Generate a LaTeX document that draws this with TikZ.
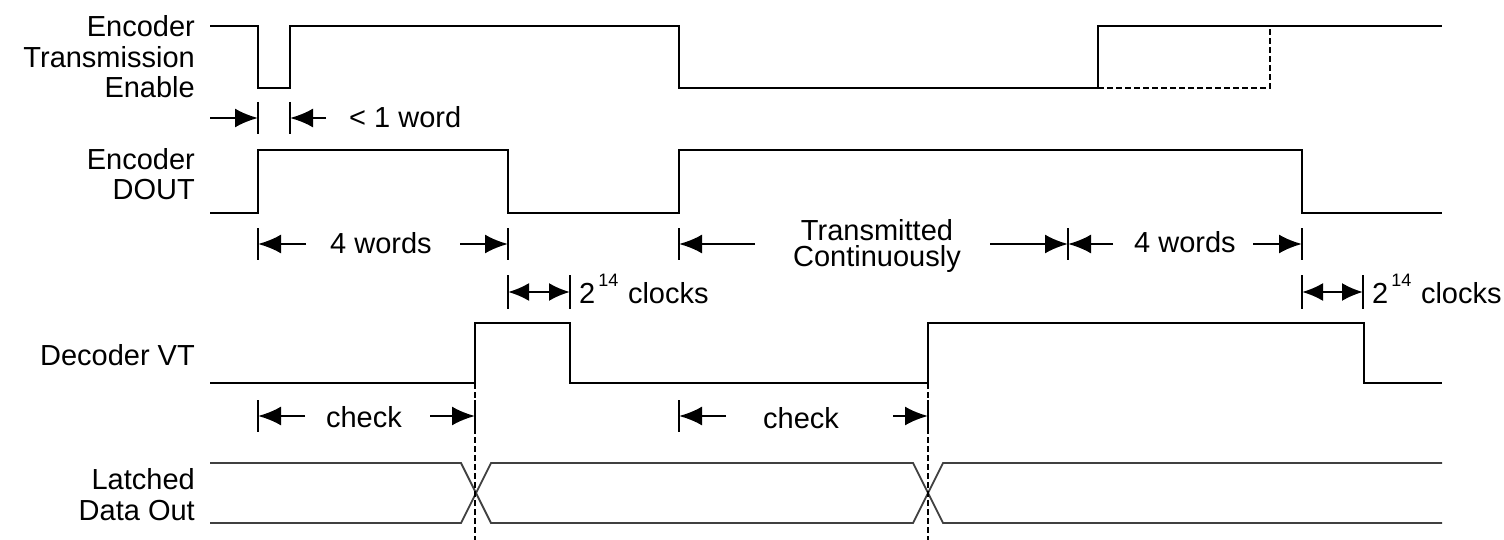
\documentclass[tikz,border=0pt]{standalone}
\usepackage{fontspec}
\setmainfont{Liberation Sans}
\usetikzlibrary{arrows.meta}
\tikzset{
    wave/.style = {line width=2.8pt},
    bus/.style = {line width=1.8pt, black!75},
    guide/.style = {line width=2.2pt, dash pattern=on 6pt off 3pt},
    tick/.style = {line width=2.4pt},
    dim/.style = {line width=2.4pt, -{Latex[length=23pt,width=19pt]}},
    dimboth/.style = {line width=2.4pt, {Latex[length=21pt,width=18pt]}-{Latex[length=21pt,width=18pt]}},
    lbl/.style = {anchor=base east, align=right, inner sep=0pt, font=\fontsize{29}{30.5}\selectfont},
    note/.style = {inner sep=0pt, font=\fontsize{29}{26.5}\selectfont}
}
\newcommand{\twopow}{2\raisebox{17pt}{\fontsize{18}{18}\selectfont\,14}\,\,clocks}

\begin{document}
\begin{tikzpicture}[x=1pt, y=-1pt]
    \useasboundingbox (0,0) rectangle (1504,540);

    % signal names (base = last line)
    \node[lbl] (lte) at (195,98) {Encoder\\Transmission\\Enable};
    \node[lbl] (ldout) at (195,200) {Encoder\\DOUT};
    \node[lbl] (lvt) at (195,365) {Decoder VT};
    \node[lbl] (lout) at (195,520) {Latched\\Data Out};

    % waveforms
    \draw[wave] (210,26) -| (258,88) -| (290,26) -| (679,88) -| (1098,26) -- (1442,26);
    \draw[guide] (1098,88) -| (1270,26);
    \draw[wave] (210,213) -| (258,150) -| (508,213) -| (679,150) -| (1302,213) -- (1442,213);
    \draw[wave] (210,383) -| (475,323) -| (570,383) -| (928,323) -| (1364,383) -- (1442,383);
    \draw[bus] (210,463) -- (461,463) -- (491,523) -- (913,523) -- (943,463) -- (1442,463);
    \draw[bus] (210,523) -- (461,523) -- (491,463) -- (913,463) -- (943,523) -- (1442,523);
    \draw[guide] (475,383) -- (475,540);
    \draw[guide] (928,383) -- (928,540);

    % < 1 word
    \coordinate (a0) at (210,118);
    \coordinate (a1) at (258,118);
    \coordinate (a2) at (290,118);
    \coordinate (a3) at (326,118);
    \draw[tick] ([yshift=16pt]a1) -- ([yshift=-16pt]a1);
    \draw[tick] ([yshift=16pt]a2) -- ([yshift=-16pt]a2);
    \draw[dim] (a0) -- (a1);
    \draw[dim] (a3) -- (a2);
    \node[note, anchor=base west] (tword) at (349,128) {< 1 word};

    % 4 words, transmitted continuously, 4 words
    \coordinate (b0) at (258,244);
    \coordinate (b1) at (306,244);
    \coordinate (b2) at (460,244);
    \coordinate (b3) at (508,244);
    \coordinate (b4) at (679,244);
    \coordinate (b5) at (755,244);
    \coordinate (b6) at (990,244);
    \coordinate (b7) at (1068,244);
    \coordinate (b8) at (1113,244);
    \coordinate (b9) at (1253,244);
    \coordinate (b10) at (1302,244);
    \foreach \c in {b0,b3,b4,b7,b10}
        \draw[tick] ([yshift=16pt]\c) -- ([yshift=-16pt]\c);
    \draw[dim] (b1) -- (b0);
    \draw[dim] (b2) -- (b3);
    \draw[dim] (b5) -- (b4);
    \draw[dim] (b6) -- (b7);
    \draw[dim] (b8) -- (b7);
    \draw[dim] (b9) -- (b10);
    \node[note, anchor=base] (tfour) at (381,253) {4 words};
    \node[note, align=center] (tcont) at (877,246) {Transmitted\\Continuously};
    \node[note, anchor=base] (tfourb) at (1185,252) {4 words};

    % 2^14 clocks
    \coordinate (c0) at (508,292);
    \coordinate (c1) at (570,292);
    \coordinate (c2) at (1302,292);
    \coordinate (c3) at (1363,292);
    \foreach \c in {c0,c1,c2,c3}
        \draw[tick] ([yshift=17pt]\c) -- ([yshift=-17pt]\c);
    \draw[dimboth] (c0) -- (c1);
    \draw[dimboth] (c2) -- (c3);
    \node[note, anchor=base west] (tclk) at (579,303) {\twopow};
    \node[note, anchor=base west] (tclkb) at (1372,303) {\twopow};

    % check
    \coordinate (d0) at (258,416);
    \coordinate (d1) at (305,416);
    \coordinate (d2) at (430,416);
    \coordinate (d3) at (475,416);
    \coordinate (d4) at (679,416);
    \coordinate (d5) at (726,416);
    \coordinate (d6) at (893,416);
    \coordinate (d7) at (928,416);
    \foreach \c in {d0,d3,d4,d7}
        \draw[tick] ([yshift=16pt]\c) -- ([yshift=-16pt]\c);
    \draw[dim] (d1) -- (d0);
    \draw[dim] (d2) -- (d3);
    \draw[dim] (d5) -- (d4);
    \draw[dim] (d6) -- (d7);
    \node[note, anchor=base] (tchk) at (364,427) {check};
    \node[note, anchor=base] (tchkb) at (801,428) {check};
\end{tikzpicture}
\end{document}
